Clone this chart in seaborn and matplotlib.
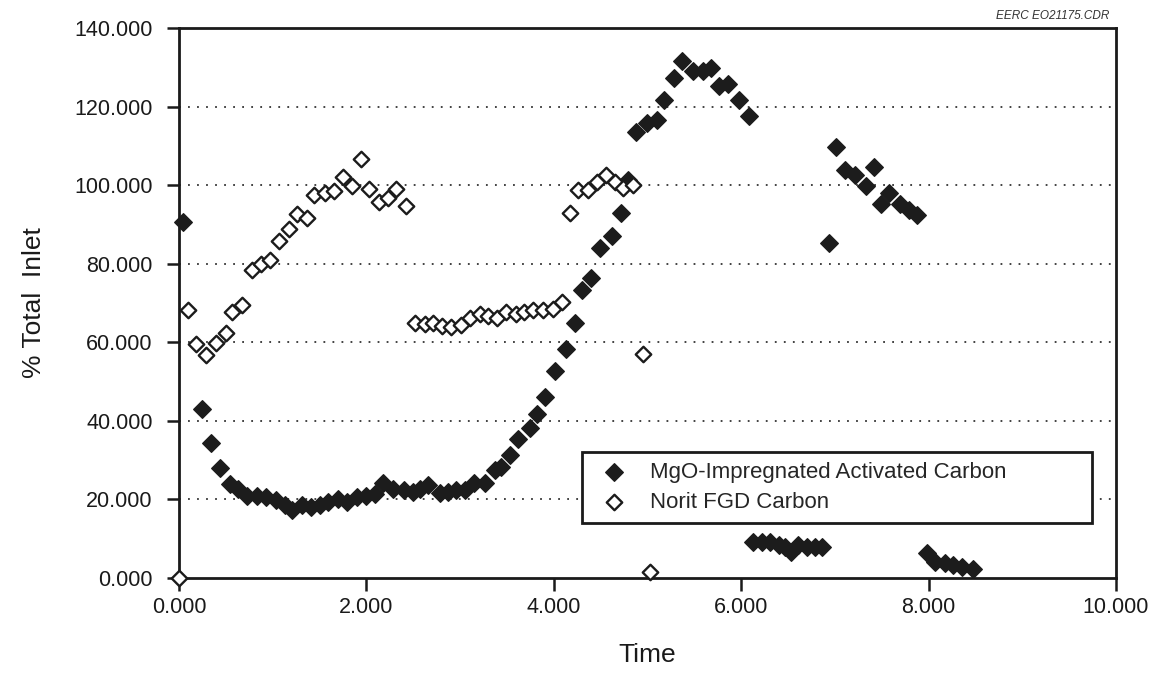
import numpy as np
import pandas as pd
import matplotlib
matplotlib.use("Agg")
import matplotlib.pyplot as plt
import seaborn as sns

# MgO-impregnated activated carbon (filled diamonds)
mgo_time = [0.04, 0.25, 0.34, 0.44, 0.55, 0.63, 0.73, 0.83, 0.93, 1.04,
            1.13, 1.21, 1.31, 1.41, 1.51, 1.59, 1.70, 1.79, 1.90, 2.00,
            2.09, 2.18, 2.28, 2.40, 2.50, 2.57, 2.66, 2.79, 2.87, 2.96,
            3.05, 3.15, 3.27, 3.37, 3.44, 3.53, 3.62, 3.75, 3.82, 3.91,
            4.01, 4.13, 4.23, 4.30, 4.40, 4.49, 4.62, 4.72, 4.79, 4.88,
            4.99, 5.10, 5.18, 5.28, 5.37, 5.49, 5.59, 5.68, 5.76, 5.86,
            5.98, 6.08, 6.13, 6.22, 6.31, 6.40, 6.47, 6.53, 6.61, 6.70,
            6.79, 6.86, 6.94, 7.01, 7.11, 7.21, 7.33, 7.42, 7.49, 7.58,
            7.70, 7.79, 7.88, 7.98, 8.07, 8.17, 8.26, 8.36, 8.47]
mgo_pct = [90.6, 43.0, 34.4, 28.0, 24.0, 22.7, 21.0, 21.0, 20.6, 19.8,
           18.5, 17.4, 18.7, 18.1, 18.7, 19.3, 20.2, 19.3, 20.6, 21.0,
           21.3, 24.3, 22.7, 22.3, 21.9, 22.7, 23.7, 21.6, 22.0, 22.4,
           22.5, 24.3, 24.1, 27.6, 28.3, 31.3, 35.5, 38.1, 41.7, 46.1,
           52.8, 58.3, 64.9, 73.4, 76.4, 84.1, 87.1, 93.0, 101.3, 113.6,
           115.9, 116.5, 121.6, 127.4, 131.6, 129.0, 129.0, 129.7, 125.2, 125.7,
           121.6, 117.6, 9.2, 9.2, 9.1, 8.4, 8.0, 6.7, 8.4, 8.0,
           8.0, 8.0, 85.4, 109.6, 103.8, 102.5, 99.8, 104.5, 95.3, 98.1,
           95.3, 93.8, 92.4, 6.3, 4.2, 3.9, 3.3, 2.7, 2.2]

# Norit FGD carbon (open diamonds)
norit_time = [0.00, 0.10, 0.18, 0.29, 0.40, 0.50, 0.57, 0.67, 0.78, 0.88,
              0.97, 1.07, 1.17, 1.26, 1.37, 1.44, 1.56, 1.65, 1.75, 1.85,
              1.94, 2.03, 2.13, 2.23, 2.32, 2.42, 2.52, 2.63, 2.71, 2.81,
              2.90, 3.01, 3.11, 3.21, 3.30, 3.39, 3.49, 3.60, 3.68, 3.78,
              3.88, 3.99, 4.09, 4.17, 4.26, 4.36, 4.46, 4.56, 4.65, 4.74,
              4.85, 4.95, 5.03]
norit_pct = [0.0, 68.1, 59.6, 56.7, 59.8, 62.3, 67.7, 69.4, 78.5, 80.0,
             81.0, 85.9, 88.9, 92.7, 91.6, 97.5, 98.0, 98.6, 102.0, 99.7,
             106.7, 99.1, 95.7, 96.8, 99.1, 94.7, 64.8, 64.6, 65.0, 64.2,
             64.0, 64.4, 66.1, 67.2, 66.7, 66.2, 67.8, 67.2, 67.8, 68.2,
             68.2, 68.6, 70.3, 93.0, 98.7, 98.7, 100.7, 102.5, 100.8, 99.3,
             100.0, 57.0, 1.6]

mgo_label = "MgO-Impregnated Activated Carbon"
norit_label = "Norit FGD Carbon"

x_ticks = [0, 2, 4, 6, 8, 10]
y_ticks = [0, 20, 40, 60, 80, 100, 120, 140]

sns.set_theme(style="white")
plt.rcParams['font.family'] = ['Liberation Sans', 'DejaVu Sans']

fig = plt.figure(figsize=(11.59, 6.83), dpi=100)
ax = fig.add_axes([0.1544, 0.1537, 0.8085, 0.8053])

mgo = pd.DataFrame({'Time': mgo_time, 'Pct': mgo_pct})
norit = pd.DataFrame({'Time': norit_time, 'Pct': norit_pct})

sns.scatterplot(x='Time', y='Pct', data=mgo, marker='D', s=80,
                color='#1c1c1c', edgecolor='#1c1c1c', linewidth=1.0,
                label=mgo_label, ax=ax, zorder=3, clip_on=False)
sns.scatterplot(x='Time', y='Pct', data=norit, marker='D', s=62,
                color='white', edgecolor='#1c1c1c', linewidth=1.7,
                label=norit_label, ax=ax, zorder=4, clip_on=False)

ax.set_xlim(0, 10)
ax.set_ylim(0, 140)
ax.set_xticks(x_ticks)
ax.set_yticks(y_ticks)
ax.set_xticklabels([f"{v:.3f}" for v in x_ticks])
ax.set_yticklabels([f"{v:.3f}" for v in y_ticks])

# dotted horizontal grid
for v in y_ticks[1:-1]:
    ax.axhline(v, color='#333333', linestyle=(0, (1, 4)), linewidth=1.3, zorder=1)

for sp in ax.spines.values():
    sp.set_color('#1a1a1a')
    sp.set_linewidth(2.0)
    sp.set_visible(True)

ax.tick_params(axis='both', which='major', direction='out', length=9,
               width=1.8, color='#1a1a1a', labelsize=15.5,
               labelcolor='#1a1a1a', left=True, bottom=True)
ax.tick_params(axis='y', pad=10)
ax.tick_params(axis='x', pad=5)

ax.set_xlabel("Time", fontsize=19, labelpad=18, color='#1a1a1a')
ax.set_ylabel("% Total  Inlet", fontsize=19, labelpad=20, color='#1a1a1a')

leg = ax.legend(loc='lower left', bbox_to_anchor=(0.430, 0.100, 0.544, 0.165),
                mode='expand', fontsize=16, frameon=True, fancybox=False,
                borderaxespad=0, handletextpad=0.6, borderpad=0.45,
                labelspacing=0.4, markerscale=1.0)
leg.get_frame().set_edgecolor('#1a1a1a')
leg.get_frame().set_linewidth(2.0)
leg.get_frame().set_alpha(1)

fig.text(0.957, 0.968, "EERC EO21175.CDR", ha='right', va='bottom',
         fontsize=8.5, style='italic', color='#333333')

fig.savefig("out.png", dpi=100)
